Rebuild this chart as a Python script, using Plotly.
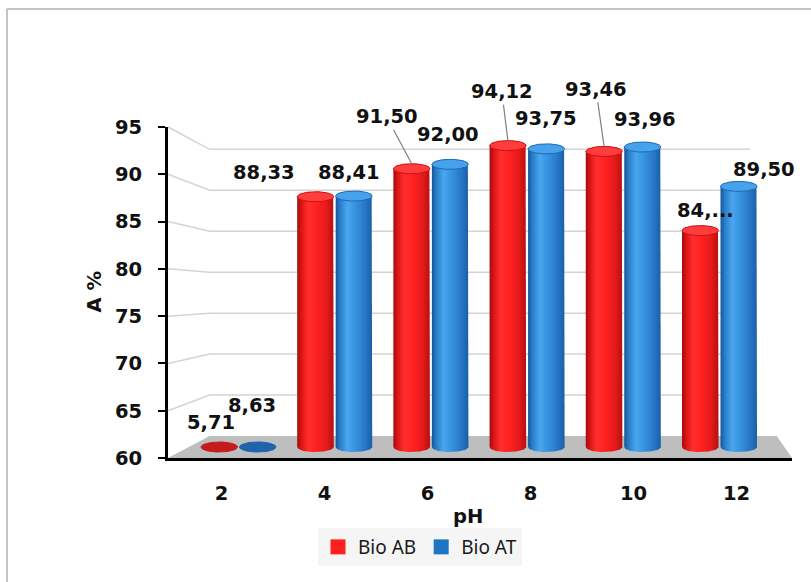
import numpy as np
import plotly.graph_objects as go

# ---- data -------------------------------------------------------------
ph_labels = ["2", "4", "6", "8", "10", "12"]
bio_ab = [5.71, 88.33, 91.50, 94.12, 93.46, 84.50]
bio_at = [8.63, 88.41, 92.00, 93.75, 93.96, 89.50]
y_ticks = [60, 65, 70, 75, 80, 85, 90, 95]
series_names = ["Bio AB", "Bio AT"]


def fmt(v):
    return f"{v:.2f}".replace(".", ",")


ab_text = [fmt(v) for v in bio_ab]
ab_text[5] = "84,..."          # this label is shown clipped
at_text = [fmt(v) for v in bio_at]

# ---- geometry of the pseudo-3D frame -----------------------------------
W, H = 811, 582
PL, PR, PT, PB = 168, 792, 127, 458       # plot area in pixels
Y_MIN, Y_MAX = 60, 95
CX = 479.0                                # pixel of category 2.5 (vanishing centre)
STEP_X = 103.0                            # px per category on the front plane
STEP_Y = (PB - PT) / (Y_MAX - Y_MIN)      # px per unit on the front plane
# depth plane -> (scale factor, floor pixel row)
DEPTH = {"front": (1.0, 458.0), "mid": (0.934, 447.0), "back": (0.866, 436.0)}


def ranges(depth):
    s, floor_px = DEPTH[depth]
    xr = [2.5 + (PL - CX) / (STEP_X * s), 2.5 + (PR - CX) / (STEP_X * s)]
    yr = [Y_MIN + (floor_px - PB) / (STEP_Y * s), Y_MIN + (floor_px - PT) / (STEP_Y * s)]
    return xr, yr


def to_paper(i, v, depth):
    xr, yr = ranges(depth)
    return (i - xr[0]) / (xr[1] - xr[0]), (v - yr[0]) / (yr[1] - yr[0])


def path(points):
    return "M " + " L ".join(f"{x:.5f},{y:.5f}" for x, y in points) + " Z"


FX, FY = ranges("front")
MX, MY = ranges("mid")

BAR_HALF = 0.19      # half bar width in categories
BAR_OFF = 0.20       # offset of each series from the category centre
CAP_B = 0.57         # vertical half-axis of the cylinder ellipses (mid-plane units)

BODY_SCALES = [
    [[0, "#a30c0c"], [0.12, "#dc1515"], [0.3, "#ff2e2e"], [0.52, "#ff2222"],
     [0.8, "#e61a1a"], [1, "#b51010"]],
    [[0, "#185597"], [0.12, "#287dc9"], [0.32, "#49a5ee"], [0.55, "#3592df"],
     [0.82, "#2676c4"], [1, "#1a5ea6"]],
]
CAP_FILL = ["#ff3d3d", "#46a2eb"]
CAP_LINE = ["#cf1010", "#1e6ab6"]
DISK_FILL = ["#c41c1c", "#1f63aa"]
LEGEND_COLOR = ["#ff1f1f", "#1f74c4"]

LABEL_FONT = dict(family="DejaVu Sans", size=19.5, color="#111111", weight="bold")

# label placement per bar: plain shift (dx, dy) or a leader line (ax, ay)
label_pos = [
    [dict(dx=-8.5, dy=25), dict(dx=-51, dy=24.5), dict(ax=-25, ay=-47),
     dict(ax=-6, ay=-49), dict(ax=-8, ay=-57), dict(dx=5.5, dy=20)],
    [dict(dx=-6, dy=42), dict(dx=-5, dy=24), dict(dx=-2, dy=30),
     dict(dx=0, dy=30), dict(dx=2, dy=28), dict(dx=25, dy=17)],
]

fig = go.Figure()

t_lo = np.linspace(np.pi, 2 * np.pi, 40)
t_hi = np.linspace(0, np.pi, 40)
t_full = np.linspace(0, 2 * np.pi, 80)

annotations = []
for ci in range(len(ph_labels)):
    for si, (values, texts) in enumerate(((bio_ab, ab_text), (bio_at, at_text))):
        v = values[ci]
        xc = ci + (-BAR_OFF if si == 0 else BAR_OFF)
        top = max(v, Y_MIN)
        if v > Y_MIN:
            xs = np.concatenate([xc + BAR_HALF * np.cos(t_lo), xc + BAR_HALF * np.cos(t_hi)])
            ys = np.concatenate([Y_MIN + CAP_B * np.sin(t_lo), top + CAP_B * np.sin(t_hi)])
            fig.add_trace(go.Scatter(
                x=xs, y=ys, xaxis="x2", yaxis="y2", mode="lines", fill="toself",
                line=dict(width=0, color="rgba(0,0,0,0)"),
                fillgradient=dict(type="horizontal", colorscale=BODY_SCALES[si]),
                hoverinfo="skip", showlegend=False))
            cap_fill, cap_line = CAP_FILL[si], CAP_LINE[si]
        else:
            cap_fill, cap_line = DISK_FILL[si], DISK_FILL[si]
        fig.add_trace(go.Scatter(
            x=xc + BAR_HALF * np.cos(t_full), y=top + CAP_B * np.sin(t_full),
            xaxis="x2", yaxis="y2", mode="lines", fill="toself",
            fillcolor=cap_fill, line=dict(width=1, color=cap_line),
            hoverinfo="skip", showlegend=False))

        pos = label_pos[si][ci]
        if "ax" in pos:
            annotations.append(dict(
                x=xc, y=top, xref="x2", yref="y2", text=texts[ci], font=LABEL_FONT,
                showarrow=True, arrowhead=0, arrowwidth=1.2, arrowcolor="#7f7f7f",
                ax=pos["ax"], ay=pos["ay"], yshift=5))
        else:
            annotations.append(dict(
                x=xc, y=top, xref="x2", yref="y2", text=texts[ci], font=LABEL_FONT,
                showarrow=False, xshift=pos["dx"], yshift=pos["dy"]))

# legend entries
for si, name in enumerate(series_names):
    fig.add_trace(go.Scatter(
        x=[None], y=[None], mode="markers", name=name,
        marker=dict(symbol="square", size=15, color=LEGEND_COLOR[si])))

# ---- floor, back-wall gridlines and frame ------------------------------
shapes = []
floor = [to_paper(FX[0], Y_MIN, "front"), to_paper(FX[1], Y_MIN, "front"),
         to_paper(FX[1] + 0.3, Y_MIN, "back"), to_paper(FX[0], Y_MIN, "back")]
shapes.append(dict(type="path", xref="paper", yref="paper", path=path(floor),
                   fillcolor="#bebebe", line=dict(width=0), layer="below"))
for v in y_ticks[1:]:
    p0 = to_paper(FX[0], v, "front")
    p1 = to_paper(FX[0], v, "back")
    p2 = to_paper(FX[1], v, "back")
    shapes.append(dict(type="path", xref="paper", yref="paper",
                       path=f"M {p0[0]:.5f},{p0[1]:.5f} L {p1[0]:.5f},{p1[1]:.5f} L {p2[0]:.5f},{p2[1]:.5f}",
                       line=dict(color="#d4d4d4", width=1.5), layer="below"))

# outer chart frame (left and top edges)
fx0 = (7 - PL) / (PR - PL)
fy0 = (PB - 9) / (PB - PT)
shapes.append(dict(type="line", xref="paper", yref="paper", x0=fx0, x1=fx0, y0=fy0, y1=-0.5,
                   line=dict(color="#c4c4c4", width=2)))
shapes.append(dict(type="line", xref="paper", yref="paper", x0=fx0, x1=1.1, y0=fy0, y1=fy0,
                   line=dict(color="#c4c4c4", width=2)))

# axis titles
annotations.append(dict(text="A %", xref="paper", yref="paper", x=(94 - PL) / (PR - PL), y=0.5,
                        xanchor="center", yanchor="middle",
                        textangle=-90, showarrow=False, font=LABEL_FONT))
annotations.append(dict(text="pH", xref="paper", yref="paper", x=(468 - PL) / (PR - PL),
                        y=(PB - 516) / (PB - PT), xanchor="center", yanchor="middle",
                        showarrow=False, font=LABEL_FONT))

TICK_FONT = dict(family="DejaVu Sans", size=19.5, color="#111111", weight="bold")

fig.update_layout(
    width=W, height=H, autosize=False,
    margin=dict(l=PL, r=W - PR, t=PT, b=H - PB, pad=0),
    paper_bgcolor="white", plot_bgcolor="rgba(0,0,0,0)",
    hovermode=False,
    xaxis=dict(range=FX, tickvals=list(range(len(ph_labels))), ticktext=ph_labels,
               showgrid=False, zeroline=False, showline=True, linecolor="#000000",
               linewidth=3, ticks="", tickfont=TICK_FONT, ticklabelstandoff=16,
               automargin=False, fixedrange=True),
    yaxis=dict(range=[Y_MIN, Y_MAX], tickvals=y_ticks, showgrid=False, zeroline=False,
               showline=True, linecolor="#000000", linewidth=3, ticks="outside",
               ticklen=7, tickwidth=2, tickcolor="#000000", tickfont=TICK_FONT,
               ticklabelstandoff=12, automargin=False, fixedrange=True),
    xaxis2=dict(range=MX, overlaying="x", visible=False, fixedrange=True),
    yaxis2=dict(range=MY, overlaying="y", visible=False, fixedrange=True),
    shapes=shapes,
    annotations=annotations,
    showlegend=True,
    legend=dict(orientation="h", x=(420 - PL) / (PR - PL), xanchor="center",
                y=(PB - 528) / (PB - PT), yanchor="top", bgcolor="#f5f5f5",
                font=dict(family="Noto Sans", size=19, color="#1a1a1a"),
                itemwidth=30, traceorder="normal"),
)

fig.write_html("out.html")
